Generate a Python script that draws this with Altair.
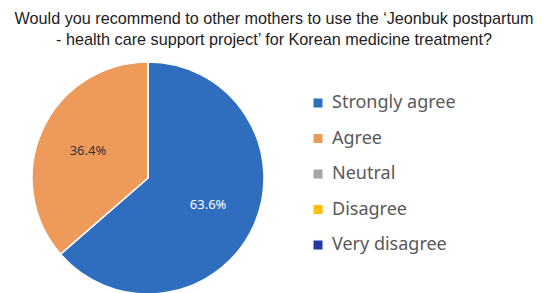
import altair as alt
import pandas as pd

categories = ["Strongly agree", "Agree", "Neutral", "Disagree", "Very disagree"]
values = [63.6, 36.4, 0, 0, 0]
colors = ["#2F6EBF", "#EE9A5B", "#A5A5A5", "#FFC000", "#2138A8"]
title_lines = [
    "Would you recommend to other mothers to use the \u2018Jeonbuk postpartum",
    "- health care support project\u2019 for Korean medicine treatment?",
]

df = pd.DataFrame({"category": categories, "value": values, "order": list(range(len(categories)))})
df["label"] = df["value"].map(lambda v: f"{v:.1f}%")

base = alt.Chart(df).encode(
    theta=alt.Theta("value:Q", stack=True),
    order=alt.Order("order:Q"),
)

arcs = base.mark_arc(outerRadius=116, stroke="white", strokeWidth=1.5).encode(
    color=alt.Color(
        "category:N",
        scale=alt.Scale(domain=categories, range=colors),
        sort=categories,
        legend=alt.Legend(
            title=None,
            orient="none",
            legendX=301,
            legendY=36,
            symbolType="square",
            symbolSize=81,
            symbolStrokeWidth=0,
            labelFontSize=18,
            labelFont="Noto Sans",
            labelColor="#595959",
            labelOffset=5,
            rowPadding=17.5,
            padding=0,
        ),
    )
)

texts = base.transform_filter("datum.value > 0").mark_text(
    radius=66, fontSize=13, font="Noto Sans"
).encode(
    text="label:N",
    color=alt.condition("datum.category == 'Strongly agree'", alt.value("white"), alt.value("#333333")),
)

chart = alt.layer(arcs, texts).properties(
    width=280,
    height=240,
    padding={"top": 50, "left": 0, "right": 252, "bottom": 0},
    autosize=alt.AutoSizeParams(type="none"),
    title=alt.TitleParams(
        text=title_lines,
        font="Liberation Sans",
        fontSize=16.2,
        fontWeight="normal",
        color="#222222",
        anchor="middle",
        frame="group",
        dx=126,
        offset=10,
        lineHeight=21,
    ),
).configure_view(stroke=None)

chart.save("out.html", embed_options={"renderer": "svg", "actions": False})
